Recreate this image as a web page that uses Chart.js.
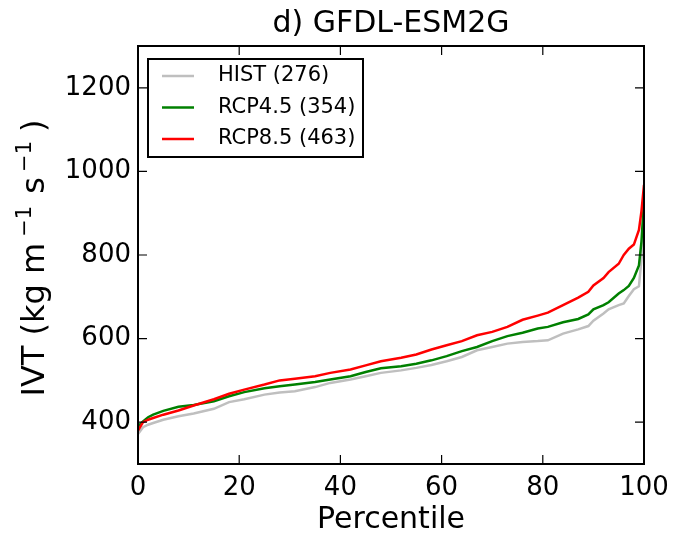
<!DOCTYPE html>
<html>
<head>
<meta charset="utf-8">
<script src="https://cdn.jsdelivr.net/npm/chart.js@4.4.0/dist/chart.umd.min.js"></script>
<style>
    html, body { margin: 0; padding: 0; background: #fff; }
    #ivtChart { display: block; }
</style>
</head>
<body>
<canvas id="ivtChart" width="686" height="539"></canvas>
<script>
// Datos (percentil vs IVT)
const percentiles = [0, 1, 2, 3, 5, 8, 11, 15, 18, 21, 25, 28, 31, 35, 38, 42, 45, 48, 52, 55, 58, 61, 64, 67, 70, 73, 76, 79, 81, 84, 87, 89, 90, 92, 93, 95, 96, 97, 98, 99, 99.5, 100];
const histValues  = [372, 388, 394, 398, 406, 414, 421, 432, 448, 455, 466, 471, 474, 484, 494, 502, 510, 518, 524, 530, 537, 546, 556, 572, 580, 588, 592, 594, 596, 612, 622, 630, 643, 660, 670, 680, 684, 702, 718, 725, 790, 850];
const rcp45Values = [390, 402, 412, 418, 427, 437, 441, 450, 462, 472, 481, 486, 490, 496, 502, 510, 520, 529, 534, 540, 548, 558, 570, 580, 594, 606, 614, 624, 628, 639, 647, 658, 670, 680, 687, 708, 716, 726, 745, 775, 832, 930];
const rcp85Values = [380, 400, 406, 410, 418, 428, 440, 455, 468, 478, 490, 500, 504, 510, 518, 526, 536, 546, 554, 562, 574, 584, 594, 608, 616, 628, 645, 655, 662, 680, 698, 712, 727, 745, 759, 779, 800, 815, 825, 860, 905, 968];

const seriesLabels = ['HIST (276)', 'RCP4.5 (354)', 'RCP8.5 (463)'];
const seriesColors = ['#bfbfbf', '#008000', '#ff0000'];
const xTickValues = [0, 20, 40, 60, 80, 100];
const yTickValues = [400, 600, 800, 1000, 1200];

document.addEventListener('DOMContentLoaded', function() {
    initializeIvtChart();
});

function toPoints(values) {
    return percentiles.map(function(p, i) { return { x: p, y: values[i] }; });
}

// Marco negro y marcas hacia dentro en los cuatro lados (estilo matplotlib)
const frameTicksPlugin = {
    id: 'frameTicks',
    afterDatasetsDraw: function(chart) {
        const ctx = chart.ctx;
        const area = chart.chartArea;
        const xs = chart.scales.x;
        const ys = chart.scales.y;
        const len = 9;
        ctx.save();
        ctx.strokeStyle = '#000';
        ctx.lineWidth = 1.2;
        ctx.beginPath();
        xTickValues.forEach(function(v) {
            const px = xs.getPixelForValue(v);
            ctx.moveTo(px, area.bottom); ctx.lineTo(px, area.bottom - len);
            ctx.moveTo(px, area.top); ctx.lineTo(px, area.top + len);
        });
        yTickValues.forEach(function(v) {
            const py = ys.getPixelForValue(v);
            ctx.moveTo(area.left, py); ctx.lineTo(area.left + len, py);
            ctx.moveTo(area.right, py); ctx.lineTo(area.right - len, py);
        });
        ctx.stroke();
        ctx.lineWidth = 2;
        ctx.strokeRect(area.left, area.top, area.right - area.left, area.bottom - area.top);
        ctx.restore();
    }
};

// Leyenda con caja dentro del area del grafico
const boxLegendPlugin = {
    id: 'boxLegend',
    afterDraw: function(chart) {
        const ctx = chart.ctx;
        const area = chart.chartArea;
        const x0 = area.left + 10;
        const y0 = area.top + 13;
        ctx.save();
        ctx.fillStyle = '#fff';
        ctx.fillRect(x0, y0, 215, 98);
        ctx.strokeStyle = '#000';
        ctx.lineWidth = 2;
        ctx.strokeRect(x0, y0, 215, 98);
        ctx.font = '21px "DejaVu Sans"';
        ctx.textBaseline = 'middle';
        chart.data.datasets.forEach(function(ds, i) {
            const cy = y0 + 17 + i * 31.5;
            ctx.strokeStyle = ds.borderColor;
            ctx.lineWidth = 2.5;
            ctx.beginPath();
            ctx.moveTo(x0 + 14, cy);
            ctx.lineTo(x0 + 46, cy);
            ctx.stroke();
            ctx.fillStyle = '#000';
            ctx.fillText(ds.label, x0 + 70, cy);
        });
        ctx.restore();
    }
};

// Titulo del eje Y con superindices (kg m^-1 s^-1)
const yLabelParts = [
    { text: 'IVT (kg m', size: 32, rise: 0, gap: 6 },
    { text: '\u22121', size: 21, rise: 13, gap: 2 },
    { text: ' s', size: 32, rise: 0, gap: 5 },
    { text: '\u22121', size: 21, rise: 13, gap: 9 },
    { text: ')', size: 32, rise: 0, gap: 0 }
];

const yLabelPlugin = {
    id: 'yLabel',
    afterDraw: function(chart) {
        const ctx = chart.ctx;
        ctx.save();
        let total = 0;
        yLabelParts.forEach(function(part) {
            ctx.font = part.size + 'px "DejaVu Sans"';
            total += ctx.measureText(part.text).width + part.gap;
        });
        ctx.translate(44, 258);
        ctx.rotate(-Math.PI / 2);
        ctx.fillStyle = '#000';
        ctx.textBaseline = 'alphabetic';
        let x = -total / 2;
        yLabelParts.forEach(function(part) {
            ctx.font = part.size + 'px "DejaVu Sans"';
            ctx.fillText(part.text, x, -part.rise);
            x += ctx.measureText(part.text).width + part.gap;
        });
        ctx.restore();
    }
};

function initializeIvtChart() {
    const ctx = document.getElementById('ivtChart');
    if (!ctx) return;

    Chart.defaults.font.family = '"DejaVu Sans"';
    Chart.defaults.color = '#000';

    const seriesValues = [histValues, rcp45Values, rcp85Values];

    new Chart(ctx, {
        type: 'line',
        data: {
            datasets: seriesValues.map(function(values, i) {
                return {
                    label: seriesLabels[i],
                    data: toPoints(values),
                    borderColor: seriesColors[i],
                    borderWidth: 2.5,
                    pointRadius: 0,
                    tension: 0,
                    fill: false,
                    order: 3 - i
                };
            })
        },
        options: {
            responsive: false,
            animation: false,
            layout: {
                padding: { top: 0, right: 42, bottom: 0, left: 0 }
            },
            plugins: {
                legend: { display: false },
                tooltip: { enabled: false },
                title: {
                    display: true,
                    text: 'd) GFDL-ESM2G',
                    fullSize: false,
                    color: '#000',
                    font: { size: 30, weight: 'normal', lineHeight: 1.2 },
                    padding: { top: 6, bottom: 4 }
                }
            },
            scales: {
                x: {
                    type: 'linear',
                    min: 0,
                    max: 100,
                    afterBuildTicks: function(scale) {
                        scale.ticks = xTickValues.map(function(v) { return { value: v }; });
                    },
                    afterFit: function(scale) { scale.height = 75; },
                    grid: { display: false, drawTicks: false },
                    border: { display: false },
                    ticks: {
                        font: { size: 26 },
                        padding: 9,
                        maxRotation: 0,
                        callback: function(value) { return String(value); }
                    },
                    title: {
                        display: true,
                        text: 'Percentile',
                        font: { size: 30, lineHeight: 1.2 },
                        padding: { top: 0, bottom: 1 }
                    }
                },
                y: {
                    type: 'linear',
                    min: 300,
                    max: 1300,
                    afterBuildTicks: function(scale) {
                        scale.ticks = yTickValues.map(function(v) { return { value: v }; });
                    },
                    afterFit: function(scale) { scale.width = 138; },
                    grid: { display: false, drawTicks: false },
                    border: { display: false },
                    ticks: {
                        font: { size: 26 },
                        padding: 7,
                        callback: function(value) { return String(value); }
                    },
                    title: { display: false }
                }
            }
        },
        plugins: [frameTicksPlugin, boxLegendPlugin, yLabelPlugin]
    });
}
</script>
</body>
</html>
